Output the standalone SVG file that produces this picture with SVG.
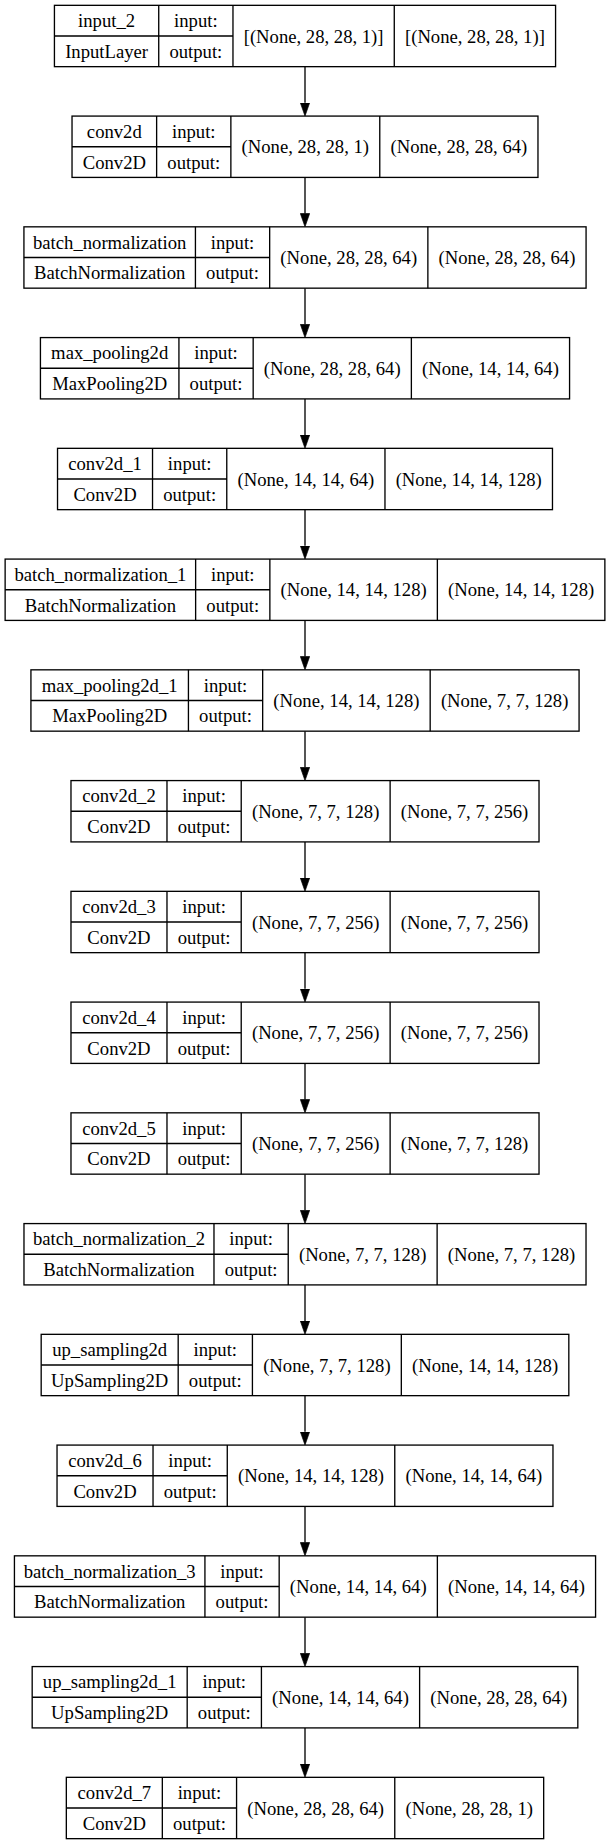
<svg xmlns="http://www.w3.org/2000/svg" width="609" height="1844" viewBox="0 0 609 1844">
<style>
.box{fill:#fff;stroke:#000;stroke-width:1.33}
.ln{stroke:#000;stroke-width:1.33;fill:none}
text{font-family:"Liberation Serif","Times New Roman",serif;font-size:18.67px;fill:#000;text-anchor:middle}
.edge{stroke:#000;stroke-width:1.33;fill:none;marker-end:url(#ah)}
</style>
<defs>
<marker id="ah" viewBox="0 0 10 7" refX="0" refY="3.5" markerWidth="13.33" markerHeight="9.33" markerUnits="userSpaceOnUse" orient="auto">
<path d="M0,0 L10,3.5 L0,7 z" fill="#000" stroke="#000" stroke-width="0.5"/>
</marker>
</defs>
<rect width="609" height="1844" fill="#fff"/>

<g id="connectors">
<path class="edge" d="M305,66.66 V102.75"/>
<path class="edge" d="M305,177.41 V213.5"/>
<path class="edge" d="M305,288.16 V324.25"/>
<path class="edge" d="M305,398.91 V435"/>
<path class="edge" d="M305,509.66 V545.75"/>
<path class="edge" d="M305,620.41 V656.5"/>
<path class="edge" d="M305,731.16 V767.25"/>
<path class="edge" d="M305,841.91 V878"/>
<path class="edge" d="M305,952.66 V988.75"/>
<path class="edge" d="M305,1063.41 V1099.5"/>
<path class="edge" d="M305,1174.16 V1210.25"/>
<path class="edge" d="M305,1284.91 V1321"/>
<path class="edge" d="M305,1395.66 V1431.75"/>
<path class="edge" d="M305,1506.41 V1542.5"/>
<path class="edge" d="M305,1617.16 V1653.25"/>
<path class="edge" d="M305,1727.91 V1764"/>
</g>

<g id="input_2" transform="translate(54.43,5.33)">
<rect class="box" width="501.14" height="61.33"/>
<path class="ln" d="M104.3,0V61.33M178.54,0V61.33M339.84,0V61.33M0,30.67H178.54"/>
<text x="52.15" y="21.9">input_2</text><text x="52.15" y="52.6">InputLayer</text>
<text x="141.42" y="21.9">input:</text><text x="141.42" y="52.6">output:</text>
<text x="259.19" y="37.3">[(None, 28, 28, 1)]</text><text x="420.49" y="37.3">[(None, 28, 28, 1)]</text>
</g>

<g id="conv2d" transform="translate(72.03,116.08)">
<rect class="box" width="465.94" height="61.33"/>
<path class="ln" d="M84.6,0V61.33M158.84,0V61.33M307.74,0V61.33M0,30.67H158.84"/>
<text x="42.3" y="21.9">conv2d</text><text x="42.3" y="52.6">Conv2D</text>
<text x="121.72" y="21.9">input:</text><text x="121.72" y="52.6">output:</text>
<text x="233.29" y="37.3">(None, 28, 28, 1)</text><text x="386.84" y="37.3">(None, 28, 28, 64)</text>
</g>

<g id="batch_normalization" transform="translate(23.93,226.83)">
<rect class="box" width="562.14" height="61.33"/>
<path class="ln" d="M171.5,0V61.33M245.74,0V61.33M403.94,0V61.33M0,30.67H245.74"/>
<text x="85.75" y="21.9">batch_normalization</text><text x="85.75" y="52.6">BatchNormalization</text>
<text x="208.62" y="21.9">input:</text><text x="208.62" y="52.6">output:</text>
<text x="324.84" y="37.3">(None, 28, 28, 64)</text><text x="483.04" y="37.3">(None, 28, 28, 64)</text>
</g>

<g id="max_pooling2d" transform="translate(40.43,337.58)">
<rect class="box" width="529.14" height="61.33"/>
<path class="ln" d="M138.5,0V61.33M212.74,0V61.33M370.94,0V61.33M0,30.67H212.74"/>
<text x="69.25" y="21.9">max_pooling2d</text><text x="69.25" y="52.6">MaxPooling2D</text>
<text x="175.62" y="21.9">input:</text><text x="175.62" y="52.6">output:</text>
<text x="291.84" y="37.3">(None, 28, 28, 64)</text><text x="450.04" y="37.3">(None, 14, 14, 64)</text>
</g>

<g id="conv2d_1" transform="translate(57.53,448.33)">
<rect class="box" width="494.94" height="61.33"/>
<path class="ln" d="M95,0V61.33M169.24,0V61.33M327.44,0V61.33M0,30.67H169.24"/>
<text x="47.5" y="21.9">conv2d_1</text><text x="47.5" y="52.6">Conv2D</text>
<text x="132.12" y="21.9">input:</text><text x="132.12" y="52.6">output:</text>
<text x="248.34" y="37.3">(None, 14, 14, 64)</text><text x="411.19" y="37.3">(None, 14, 14, 128)</text>
</g>

<g id="batch_normalization_1" transform="translate(5.13,559.08)">
<rect class="box" width="599.74" height="61.33"/>
<path class="ln" d="M190.5,0V61.33M264.74,0V61.33M432.24,0V61.33M0,30.67H264.74"/>
<text x="95.25" y="21.9">batch_normalization_1</text><text x="95.25" y="52.6">BatchNormalization</text>
<text x="227.62" y="21.9">input:</text><text x="227.62" y="52.6">output:</text>
<text x="348.49" y="37.3">(None, 14, 14, 128)</text><text x="515.99" y="37.3">(None, 14, 14, 128)</text>
</g>

<g id="max_pooling2d_1" transform="translate(30.93,669.83)">
<rect class="box" width="548.14" height="61.33"/>
<path class="ln" d="M157.5,0V61.33M231.74,0V61.33M399.24,0V61.33M0,30.67H231.74"/>
<text x="78.75" y="21.9">max_pooling2d_1</text><text x="78.75" y="52.6">MaxPooling2D</text>
<text x="194.62" y="21.9">input:</text><text x="194.62" y="52.6">output:</text>
<text x="315.49" y="37.3">(None, 14, 14, 128)</text><text x="473.69" y="37.3">(None, 7, 7, 128)</text>
</g>

<g id="conv2d_2" transform="translate(70.98,780.58)">
<rect class="box" width="468.04" height="61.33"/>
<path class="ln" d="M96,0V61.33M170.24,0V61.33M319.14,0V61.33M0,30.67H170.24"/>
<text x="48" y="21.9">conv2d_2</text><text x="48" y="52.6">Conv2D</text>
<text x="133.12" y="21.9">input:</text><text x="133.12" y="52.6">output:</text>
<text x="244.69" y="37.3">(None, 7, 7, 128)</text><text x="393.59" y="37.3">(None, 7, 7, 256)</text>
</g>

<g id="conv2d_3" transform="translate(70.98,891.33)">
<rect class="box" width="468.04" height="61.33"/>
<path class="ln" d="M96,0V61.33M170.24,0V61.33M319.14,0V61.33M0,30.67H170.24"/>
<text x="48" y="21.9">conv2d_3</text><text x="48" y="52.6">Conv2D</text>
<text x="133.12" y="21.9">input:</text><text x="133.12" y="52.6">output:</text>
<text x="244.69" y="37.3">(None, 7, 7, 256)</text><text x="393.59" y="37.3">(None, 7, 7, 256)</text>
</g>

<g id="conv2d_4" transform="translate(70.98,1002.08)">
<rect class="box" width="468.04" height="61.33"/>
<path class="ln" d="M96,0V61.33M170.24,0V61.33M319.14,0V61.33M0,30.67H170.24"/>
<text x="48" y="21.9">conv2d_4</text><text x="48" y="52.6">Conv2D</text>
<text x="133.12" y="21.9">input:</text><text x="133.12" y="52.6">output:</text>
<text x="244.69" y="37.3">(None, 7, 7, 256)</text><text x="393.59" y="37.3">(None, 7, 7, 256)</text>
</g>

<g id="conv2d_5" transform="translate(70.98,1112.83)">
<rect class="box" width="468.04" height="61.33"/>
<path class="ln" d="M96,0V61.33M170.24,0V61.33M319.14,0V61.33M0,30.67H170.24"/>
<text x="48" y="21.9">conv2d_5</text><text x="48" y="52.6">Conv2D</text>
<text x="133.12" y="21.9">input:</text><text x="133.12" y="52.6">output:</text>
<text x="244.69" y="37.3">(None, 7, 7, 256)</text><text x="393.59" y="37.3">(None, 7, 7, 128)</text>
</g>

<g id="batch_normalization_2" transform="translate(23.98,1223.58)">
<rect class="box" width="562.04" height="61.33"/>
<path class="ln" d="M190,0V61.33M264.24,0V61.33M413.14,0V61.33M0,30.67H264.24"/>
<text x="95" y="21.9">batch_normalization_2</text><text x="95" y="52.6">BatchNormalization</text>
<text x="227.12" y="21.9">input:</text><text x="227.12" y="52.6">output:</text>
<text x="338.69" y="37.3">(None, 7, 7, 128)</text><text x="487.59" y="37.3">(None, 7, 7, 128)</text>
</g>

<g id="up_sampling2d" transform="translate(41.18,1334.33)">
<rect class="box" width="527.64" height="61.33"/>
<path class="ln" d="M137,0V61.33M211.24,0V61.33M360.14,0V61.33M0,30.67H211.24"/>
<text x="68.5" y="21.9">up_sampling2d</text><text x="68.5" y="52.6">UpSampling2D</text>
<text x="174.12" y="21.9">input:</text><text x="174.12" y="52.6">output:</text>
<text x="285.69" y="37.3">(None, 7, 7, 128)</text><text x="443.89" y="37.3">(None, 14, 14, 128)</text>
</g>

<g id="conv2d_6" transform="translate(57.03,1445.08)">
<rect class="box" width="495.94" height="61.33"/>
<path class="ln" d="M96,0V61.33M170.24,0V61.33M337.74,0V61.33M0,30.67H170.24"/>
<text x="48" y="21.9">conv2d_6</text><text x="48" y="52.6">Conv2D</text>
<text x="133.12" y="21.9">input:</text><text x="133.12" y="52.6">output:</text>
<text x="253.99" y="37.3">(None, 14, 14, 128)</text><text x="416.84" y="37.3">(None, 14, 14, 64)</text>
</g>

<g id="batch_normalization_3" transform="translate(14.43,1555.83)">
<rect class="box" width="581.14" height="61.33"/>
<path class="ln" d="M190.5,0V61.33M264.74,0V61.33M422.94,0V61.33M0,30.67H264.74"/>
<text x="95.25" y="21.9">batch_normalization_3</text><text x="95.25" y="52.6">BatchNormalization</text>
<text x="227.62" y="21.9">input:</text><text x="227.62" y="52.6">output:</text>
<text x="343.84" y="37.3">(None, 14, 14, 64)</text><text x="502.04" y="37.3">(None, 14, 14, 64)</text>
</g>

<g id="up_sampling2d_1" transform="translate(32.18,1666.58)">
<rect class="box" width="545.64" height="61.33"/>
<path class="ln" d="M155,0V61.33M229.24,0V61.33M387.44,0V61.33M0,30.67H229.24"/>
<text x="77.5" y="21.9">up_sampling2d_1</text><text x="77.5" y="52.6">UpSampling2D</text>
<text x="192.12" y="21.9">input:</text><text x="192.12" y="52.6">output:</text>
<text x="308.34" y="37.3">(None, 14, 14, 64)</text><text x="466.54" y="37.3">(None, 28, 28, 64)</text>
</g>

<g id="conv2d_7" transform="translate(66.33,1777.33)">
<rect class="box" width="477.34" height="61.33"/>
<path class="ln" d="M96,0V61.33M170.24,0V61.33M328.44,0V61.33M0,30.67H170.24"/>
<text x="48" y="21.9">conv2d_7</text><text x="48" y="52.6">Conv2D</text>
<text x="133.12" y="21.9">input:</text><text x="133.12" y="52.6">output:</text>
<text x="249.34" y="37.3">(None, 28, 28, 64)</text><text x="402.89" y="37.3">(None, 28, 28, 1)</text>
</g>
</svg>
